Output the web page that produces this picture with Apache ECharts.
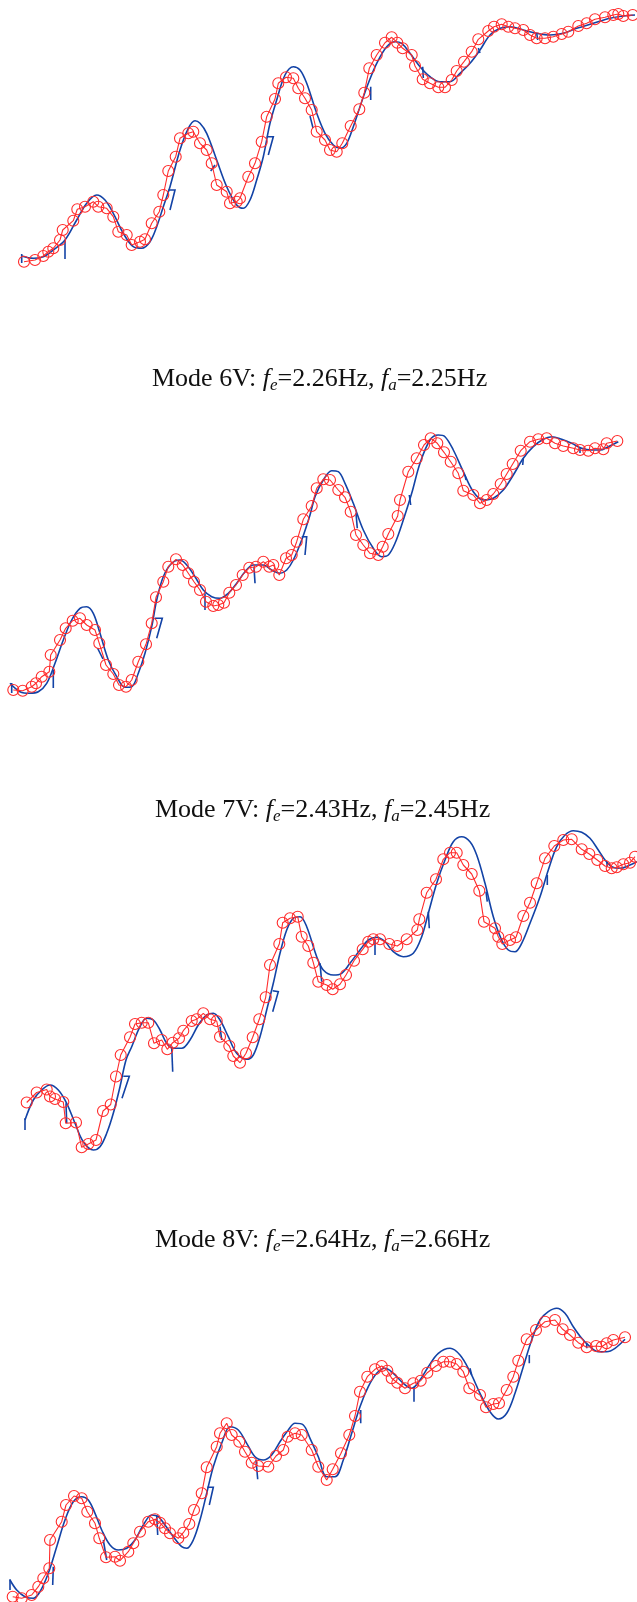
<!DOCTYPE html>
<html>
<head>
<meta charset="utf-8">
<script src="https://cdn.jsdelivr.net/npm/echarts@6/dist/echarts.min.js"></script>
<style>
  html, body { margin: 0; padding: 0; background: #fff; }
  #chart { width: 637px; height: 1602px; }
</style>
</head>
<body>
<div id="chart"></div>
<script>
// mode-shape comparison: measured (blue) vs analytical (red circles), 4 stacked panels
// coordinates are panel-local: x along the structure, y downward from panel top

const TITLES = [
  null,
  "Mode 6V: {i|f}{s|e}=2.26Hz, {i|f}{s|a}=2.25Hz",
  "Mode 7V: {i|f}{s|e}=2.43Hz, {i|f}{s|a}=2.45Hz",
  "Mode 8V: {i|f}{s|e}=2.64Hz, {i|f}{s|a}=2.66Hz",
];

const blue1 = [[21.7,256],[33.3,258.3],[43.3,256.7],[53.3,250],[65,240],[76.7,220],[86.7,203.3],[96.7,195],[105,200],[113.3,213.3],[123.3,233.3],[133.3,246.7],[141.7,248.3],[150,241.7],[156.7,226.7],[163.3,206.7],[170,186.7],[180,150],[188.3,128.3],[195,120.7],[200,123.3],[206.7,133.3],[216.7,160],[226.7,186.7],[236.7,205],[243.3,208.3],[250,200],[256.7,180],[263.3,156.7],[270,123.3],[276.7,100],[285,75],[293.3,66.7],[300,70],[306.7,83.3],[316.7,113.3],[325,133.3],[333.3,145],[340,148.3],[346.7,143.3],[353.3,126.7],[360,106.7],[368.3,83.3],[376.7,63.3],[386.7,46.7],[395,41.7],[401.7,43.3],[410,53.3],[420,66.7],[430,76.7],[440,81.7],[450,81.7],[460,73.3],[470,63.3],[480,50],[490,35],[500,28.3],[510,26.7],[523.3,30],[536.7,33.3],[550,35],[563.3,33.3],[576.7,28.3],[593.3,23.3],[610,18.3],[623.3,16],[635,15]];
const red1 = [[24,261.7],[35,260],[43.3,256],[48.3,251.7],[53.3,248.3],[60,240],[62.7,230],[73.3,220.7],[77.3,209.3],[85,206.7],[93.3,201.7],[98.3,206.7],[106.7,208.3],[113.3,216.7],[118.3,231.7],[126.7,235],[131.7,245],[140,241.7],[145,239.3],[151.7,223.3],[159.3,211.7],[163.3,195],[168.3,171],[175.7,156.7],[180,138.3],[188.3,133.3],[193.3,131.7],[200,143.3],[206.7,150],[211.7,163.3],[216.7,185],[226.7,191.7],[230,203.3],[236.7,201.7],[240,198.3],[248.3,176.7],[255,163.3],[261.7,141.7],[266.7,116.7],[275,99],[278.3,83.3],[286,77.3],[293.3,78.3],[298.3,88.3],[305,98.3],[311.7,110],[316.7,131.7],[325,140],[330,150],[336.7,151.7],[342.3,143.3],[350.7,126],[359.3,109.3],[364.3,92.7],[369.3,68.3],[376.7,55],[385,42.7],[391.7,37.3],[397.3,42.7],[402.7,48.3],[411.7,55],[415,66],[422.7,79.3],[430,83.3],[438.3,87.3],[445,87.3],[451.7,80],[456.7,71],[464,61.7],[471.7,51.7],[478.3,39.3],[488.3,31],[494,26.7],[501.7,24.3],[508.3,26.7],[515,28.3],[523.3,30],[530,35],[536.7,38.3],[545,38.3],[553.3,36.7],[561.7,34],[568.3,31.7],[578.3,26],[586.7,23.3],[595,19.3],[605,17.3],[613.3,15],[618.3,14],[623.3,16],[632.7,15]];
const ticks1 = [[[21.7,254],[21.7,263]],[[65,240],[65,259]],[[168.3,190],[175,190],[170,210]],[[210.7,171],[215,165]],[[266.7,136.7],[273.3,136.7],[268.3,155]],[[310,116],[313,128]],[[370.7,86.7],[370.7,100]],[[422.7,66.7],[423.3,78]],[[478.3,48],[480,53]],[[536.7,33],[537.7,40]]];

const blue2 = [[10,283.3],[20,291.7],[30,293.3],[38.3,291.7],[46.7,283.3],[55,263.3],[63.3,240],[71.7,220],[80,208.3],[86.7,206.7],[93.3,213.3],[100,233.3],[108.3,260],[116.7,276.7],[125,287.3],[131.7,286.7],[138.3,273.3],[145,253.3],[151.7,226.7],[156.7,200],[163.3,176.7],[171.7,163.3],[180,160],[186.7,165],[195,176.7],[203.3,190],[211.7,196.7],[220,198.3],[228.3,193.3],[236.7,183.3],[245,171.7],[253.3,165],[263.3,165],[271.7,170],[280,173.3],[286.7,170],[293.3,160],[301.7,140],[310,115],[315,96.7],[323.3,80],[331.7,70.7],[338.3,71.7],[345,83.3],[353.3,103.3],[363.3,130],[373.3,148.3],[381.7,156.7],[388.3,155],[395,143.3],[403.3,120],[411.7,93.3],[420,63.3],[430,40],[438.3,35],[445,36.7],[453.3,50],[463.3,71.7],[473.3,91.7],[483.3,100],[493.3,98.3],[503.3,90],[513.3,75],[523.3,58.3],[533.3,46.7],[543.3,39.3],[551.7,36.7],[561.7,39.3],[571.7,43.3],[581.7,48.3],[591.7,50],[600,50],[608.3,46.7],[618.3,41.7]];
const red2 = [[13.3,290],[22.7,290.7],[31.7,286.7],[36,283.3],[41.7,276.7],[49.3,271.7],[50.7,255],[60,240],[65.7,228.3],[72.7,220.7],[80,218.3],[86.7,225],[95,230],[99.3,243.3],[106,265],[113.3,274],[119,285],[126,286.7],[131.7,280],[138.3,261.7],[146,244.3],[151.7,223.3],[156,197.3],[163.3,181.7],[168.3,166.7],[176,159.3],[182.7,165],[188.3,173.3],[194,181.7],[200,190],[206,201.7],[213.3,206],[218.3,205],[224,202.7],[229.3,192.7],[236,185],[242.7,175],[249.3,167.7],[256,166.7],[263.3,161.7],[269.3,166.7],[273.3,165],[279.3,175],[286,158.3],[291.7,155],[296.7,141.7],[303.3,119.3],[311.7,106],[316.7,88.3],[323.3,79.3],[330,80],[338.3,90],[345,97.3],[350.7,111.7],[356,135],[363.3,145],[370,153.3],[378.3,155],[382.7,146.7],[388.3,134],[397.7,116],[400,100],[408.3,71.7],[416.7,58.3],[424,45],[430.7,38.3],[437.3,43.3],[444,52.3],[450.7,61.7],[458.3,73.3],[463.3,90.7],[473.3,95],[480,103.3],[486.7,100],[493.3,94],[500.7,84],[506.7,74],[512.7,64],[520.7,50.7],[530,41.7],[538.3,39.3],[546.7,38.3],[555,43.3],[563.3,46],[573.3,48.3],[580,50],[588.3,50.7],[595,48.3],[603.3,49.3],[606.7,43.3],[617.3,41]];
const ticks2 = [[[11.7,283],[11.7,293]],[[53.3,270],[53.3,288]],[[97.5,248],[103,259]],[[155,218.3],[162.3,218.3],[156.7,238.3]],[[205,193.3],[205,210]],[[254,166.7],[255,183.3]],[[301.7,136.7],[306.7,136.7],[305,155]],[[356,113.3],[357.3,128.3]],[[409.3,95],[410.7,105]],[[465,75],[466,80]],[[523.3,58.3],[522.7,65]],[[580,48],[580,53]]];

const blue3 = [[25,300],[33.3,280],[41.7,270],[50,265],[58.3,270],[66.7,283.3],[75,303.3],[83.3,321.7],[93.3,330],[100,326.7],[106.7,313.3],[113.3,293.3],[120,266.7],[126,240],[131.7,226.7],[140,206.7],[146.7,198.3],[153.3,200],[160,210],[166.7,223.3],[173.3,228.3],[181.7,228.3],[190,220],[198.3,205],[206.7,195],[213.3,193.3],[220,200],[228.3,216.7],[236.7,233.3],[246.7,239.3],[253.3,235],[260,216.7],[266.7,190],[273.3,163.3],[280,133.3],[286.7,110],[293.3,98.3],[300,96.7],[306.7,106.7],[316.7,136.7],[323.3,150],[333.3,155],[341.7,153.3],[350,143.3],[360,130],[368.3,120],[376.7,117.3],[385,121.7],[393.3,131.7],[403.3,136.7],[413.3,133.3],[421.7,116.7],[428.3,93.3],[436.7,63.3],[445,40],[453.3,21.7],[461.7,16.7],[470,21.7],[476.7,35],[485,63.3],[493.3,96.7],[501.7,120],[508.3,130],[515,131.7],[521.7,123.3],[530,103.3],[540,76.7],[548.3,50],[556.7,26.7],[565,15],[573.3,10.7],[581.7,12.3],[590,18.3],[598.3,30],[605,40],[611.7,46.7],[620,48.3],[630,45],[637,41.7]];
const red3 = [[26.7,282.5],[36.7,272.5],[46.7,269.5],[50,276.5],[55,279],[63.3,282],[65.7,303.3],[76,302.5],[81.7,327.3],[88.3,324],[96,320],[103,291],[110.7,284.5],[116,256.5],[120.7,235],[130,217.3],[135,204],[141.7,202.7],[148.3,202.7],[154,223.3],[161.7,220],[167.3,229.3],[172.7,222.7],[179,218.3],[183.3,210.7],[191.7,201],[196.7,199.3],[203.3,193.3],[210,199.3],[216.7,201],[220,216.7],[229.3,226],[233.3,236],[240,242.7],[246,233.3],[252.7,217.3],[259.3,199.3],[265.7,177.3],[270,145],[279.3,124],[282.7,102.7],[290,98.3],[297.7,96.7],[301.7,116.7],[308.3,126],[313.3,142.7],[318.3,161.7],[326.7,165],[332.7,169.3],[340,164.3],[346,155],[354,140.7],[362.7,129.3],[368.3,121.7],[373.3,119.3],[380,119.3],[389.3,124],[397.3,126],[406.7,119.3],[417.3,110],[419.3,99.3],[426.7,72.7],[436,59.3],[443.3,39.3],[450,32.7],[456.7,32.7],[463.3,45],[471.7,54],[479.3,70.7],[484,101.7],[495,108.3],[498.3,116.7],[502.3,124],[510,120],[516,117.3],[523.3,96],[530,82.7],[536.7,63.3],[545,38.3],[554.3,26],[563.3,20],[571.7,19.3],[581.7,29.3],[589.3,34],[597.3,40],[605,46],[611.7,48.3],[616.7,47.3],[623.3,44.3],[630,42.7],[635,36.7]];
const ticks3 = [[[25,298.3],[25,310]],[[66,283.3],[66.7,303.3]],[[123.3,256.3],[129.3,256.3],[122,278.3]],[[171.7,226.7],[172.7,251.7]],[[220,206.7],[221.7,220]],[[272.7,170.7],[278.3,171.7],[272.7,191.7]],[[320,143.3],[321.7,161.7]],[[375,120],[375,135]],[[428.3,91.7],[429.3,108.3]],[[486,71.7],[487.3,81.7]],[[547.3,55],[547.3,65]],[[606.7,41.7],[607.3,46.7]]];

const blue4 = [[10,340],[16.7,350],[25,356.7],[33.3,358.3],[40,351.7],[48.3,333.3],[56.7,306.7],[65,280],[73.3,261.7],[81.7,256.7],[88.3,260],[95,273.3],[101.7,290],[110,305],[118.3,310],[126.7,308.3],[135,300],[143.3,285],[151.7,275],[158.3,276.7],[165,285],[173.3,296.7],[181.7,306.7],[186.7,308.3],[193.3,300],[200,280],[206.7,253.3],[213.3,226.7],[221.7,203.3],[230,186.7],[238.3,190],[246.7,203.3],[255,216.7],[263.3,220],[271.7,215],[280,201.7],[288.3,190],[295,183.3],[303.3,185],[310,198.3],[318.3,216.7],[326.7,236.7],[335,236.7],[343.3,220],[351.7,193.3],[360,166.7],[368.3,146.7],[376.7,133.3],[385,128.3],[393.3,133.3],[403.3,143.3],[411.7,148.3],[420,140],[428.3,126.7],[438.3,113.3],[450,108.3],[460,115],[470,131.7],[480,153.3],[490,171.7],[498.3,179],[506.7,173.3],[515,153.3],[523.3,126.7],[531.7,100],[540,80],[548.3,71.7],[556.7,68.3],[565,73.3],[573.3,86.7],[581.7,98.3],[590,106.7],[598.3,111.7],[606.7,111.7],[615,108.3],[625,99.3]];
const red4 = [[12.7,356.7],[21.7,358.3],[31.7,355],[38.3,346.7],[43.3,338.3],[49.3,328.3],[50,300],[61.7,281.7],[66,265],[74,256],[81.7,258.3],[87.3,271.7],[95,283.3],[99.3,298.3],[106,317.3],[115,316.7],[120,320.7],[128.3,311.7],[133.3,303.3],[140,291.7],[148.3,281.7],[155,279.3],[160,282.7],[165,288.3],[170,293.3],[178.3,298.3],[183.3,292.7],[189.3,284],[194,270],[201.7,253.3],[206.7,227.3],[216.7,206.7],[220,193.3],[226.7,183.3],[231.7,195],[239.3,201.7],[245,211.7],[251.7,222.7],[258.3,226],[268.3,226.7],[276,216],[283.3,210],[287.7,196.7],[295,193.3],[301.7,195],[311.7,210],[318.3,226.7],[326.7,240],[332.7,229.3],[341,213.3],[349.3,195],[355,176],[360,151.7],[367.3,136.7],[375,129.3],[381.7,126],[387.3,130.7],[391.7,138.3],[397.3,142.7],[405,148.3],[413.3,143.3],[420.7,140.7],[427.3,132.7],[436,126],[443.3,121.7],[450,121.7],[456.7,124],[463.3,131.7],[469.3,148.3],[480,155],[486,167.3],[493.3,164],[499,163.3],[506.7,150],[513.3,136.7],[518.3,120.7],[526.7,99.3],[536,90],[545,81.7],[555,80],[562.7,89.3],[570,95],[578.3,102.7],[586.7,107.3],[596,106],[601.7,106.7],[606.7,103.3],[613.3,100],[625,97.3]];
const ticks4 = [[[10,339.3],[10,350]],[[53.3,326.7],[52.7,345]],[[103.3,300],[106.7,320]],[[156.7,275],[157.7,295]],[[207.3,247.3],[213.3,247.3],[209.3,265]],[[256,220],[257.7,239.3]],[[360.7,170],[360.7,183.3]],[[414,146.7],[414,161.7]],[[470,128.3],[471.7,135]],[[529.3,115],[529.3,123.3]],[[586.7,103.3],[586.7,108.3]]];

const PANELS = [
  { blue: blue1, red: red1, ticks: ticks1 },
  { blue: blue2, red: red2, ticks: ticks2 },
  { blue: blue3, red: red3, ticks: ticks3 },
  { blue: blue4, red: red4, ticks: ticks4 },
];

const BLUE = "#1343a6";
const RED = "#ff2b2b";
const SERIF = "'Liberation Serif', 'Times New Roman', serif";
const PANEL_TOP = [0, 400, 820, 1240];
const PANEL_H = 362;
const TITLE_POS = [null, { left: 152, top: 364 }, { left: 155, top: 795 }, { left: 155, top: 1225 }];

const chart = echarts.init(document.getElementById("chart"), null, { renderer: "canvas" });

const grid = PANEL_TOP.map(t => ({ left: 0, width: 637, top: t, height: PANEL_H }));
const xAxis = grid.map((_, i) => ({ gridIndex: i, type: "value", min: 0, max: 637, show: false }));
const yAxis = grid.map((_, i) => ({ gridIndex: i, type: "value", min: 0, max: PANEL_H, inverse: true, show: false }));

const rich = {
  i: { fontFamily: SERIF, fontSize: 26, fontStyle: "italic", color: "#111", lineHeight: 30 },
  s: { fontFamily: SERIF, fontSize: 17, fontStyle: "italic", color: "#111", lineHeight: 17, verticalAlign: "bottom" },
};
const title = [];
TITLES.forEach((t, i) => {
  if (!t) return;
  title.push({
    text: t, left: TITLE_POS[i].left, top: TITLE_POS[i].top, padding: 0,
    textStyle: { fontFamily: SERIF, fontSize: 26, fontWeight: "normal", color: "#111", lineHeight: 30, rich },
  });
});

const series = [];
PANELS.forEach((p, i) => {
  series.push({
    type: "line", xAxisIndex: i, yAxisIndex: i, data: p.blue, smooth: 0.35,
    symbol: "none", lineStyle: { color: BLUE, width: 1.6 }, z: 2,
  });
  series.push({
    type: "lines", coordinateSystem: "cartesian2d", xAxisIndex: i, yAxisIndex: i,
    polyline: true, silent: true, z: 2,
    data: p.ticks.map(c => ({ coords: c })),
    lineStyle: { color: BLUE, width: 1.6, opacity: 1 },
  });
  series.push({
    type: "line", xAxisIndex: i, yAxisIndex: i, data: p.red,
    symbol: "circle", symbolSize: 11, z: 3,
    itemStyle: { color: "rgba(0,0,0,0)", borderColor: RED, borderWidth: 1.1 },
    lineStyle: { color: RED, width: 1.1 },
  });
});

chart.setOption({
  backgroundColor: "#fff",
  animation: false,
  title, grid, xAxis, yAxis, series,
});
</script>
</body>
</html>
